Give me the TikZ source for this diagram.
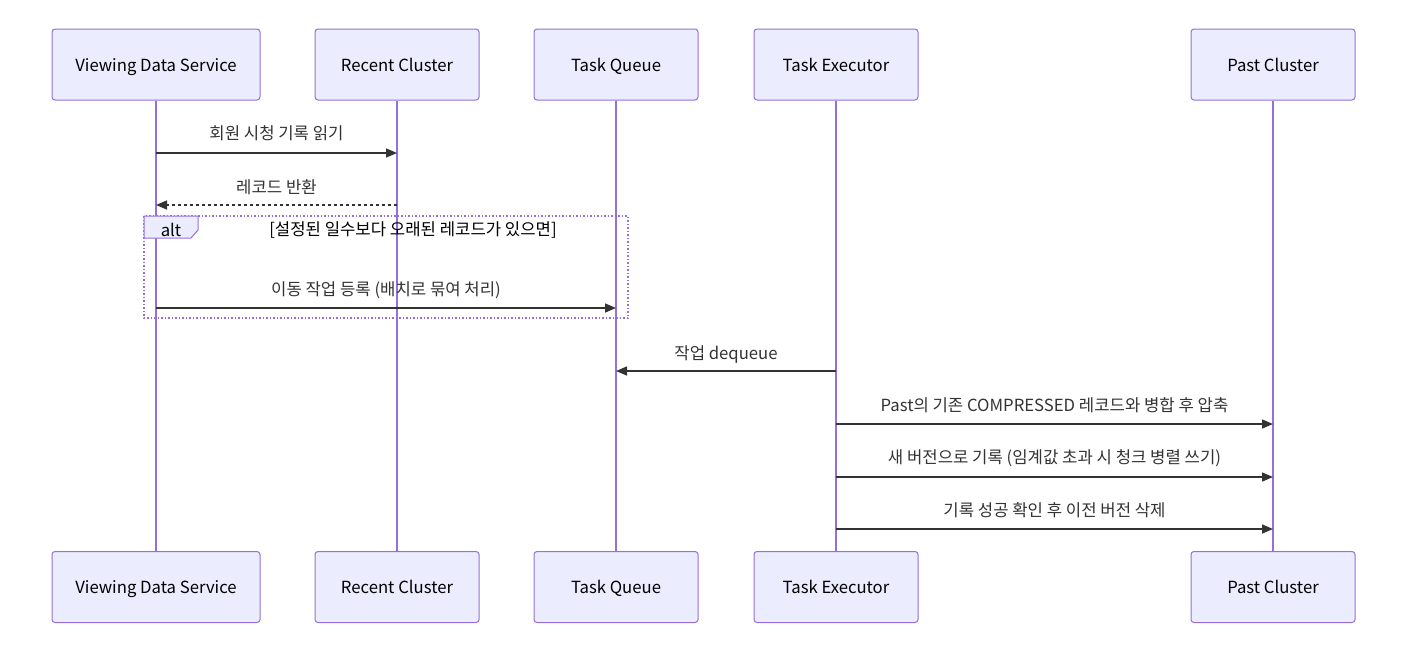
\documentclass[tikz,border=0pt]{standalone}
\usepackage{fontspec}
\setmainfont{Noto Sans CJK KR}
\usetikzlibrary{arrows.meta}
\definecolor{actorfill}{HTML}{ECECFF}
\definecolor{actorline}{HTML}{9370DB}
\definecolor{msgline}{HTML}{333333}
\begin{document}
\begin{tikzpicture}
[
    x=1pt, y=-1pt,
    font=\fontsize{16.7}{20}\selectfont,
    actor/.style={draw=actorline, fill=actorfill, line width=1pt, rounded corners=3pt,
        minimum width=164pt, minimum height=71pt, text=black,
        text height=15pt, text depth=2pt},
    lifeline/.style={draw=actorline, line width=2pt},
    msg/.style={draw=msgline, line width=1.5pt, -{Triangle[length=11pt,width=9pt]}},
    reply/.style={msg, dash pattern=on 3pt off 3pt},
    msglabel/.style={text=msgline, inner sep=0pt}
]
    \useasboundingbox (0,0) rectangle (1408,662);

    % participants, top and bottom
    \foreach \id/\cx/\w/\txt in {vds/156/208/Viewing Data Service, rc/397/164/Recent Cluster,
        tq/616/164/Task Queue, te/836/164/Task Executor, pc/1273/164/Past Cluster}
    {
        \node [actor, minimum width=\w pt] (\id T) at (\cx,64.5) {\txt};
        \node [actor, minimum width=\w pt] (\id B) at (\cx,587) {\txt};
        \draw [lifeline] (\id T.south) -- (\id B.north);
    }

    % alt frame
    \draw [actorline, line width=1.5pt, dotted] (144,216) rectangle (628,318);
    \draw [actorline, fill=actorfill, line width=1pt]
        (144,216) -- (198,216) -- (198,230) -- (191,238) -- (144,238) -- cycle;
    \node [msglabel, text=black] (altlbl) at (171,229.5) {alt};
    \node [msglabel, text=black] (altcond) at (413,230.5) {[설정된 일수보다 오래된 레코드가 있으면]};

    % messages
    \draw [msg] (vdsT.south |- 0,153) -- (rcT.south |- 0,153);
    \node [msglabel] (m1) at (276.5,133) {회원 시청 기록 읽기};

    \draw [reply] (rcT.south |- 0,205) -- (vdsT.south |- 0,205);
    \node [msglabel] (m2) at (276.5,187) {레코드 반환};

    \draw [msg] (vdsT.south |- 0,308) -- (tqT.south |- 0,308);
    \node [msglabel] (m3) at (386,290) {이동 작업 등록 (배치로 묶여 처리)};

    \draw [msg] (teT.south |- 0,371) -- (tqT.south |- 0,371);
    \node [msglabel] (m4) at (726,354) {작업 dequeue};

    \draw [msg] (teT.south |- 0,424) -- (pcT.south |- 0,424);
    \node [msglabel] (m5) at (1054.5,405) {Past의 기존 COMPRESSED 레코드와 병합 후 압축};

    \draw [msg] (teT.south |- 0,477) -- (pcT.south |- 0,477);
    \node [msglabel] (m6) at (1054.5,458) {새 버전으로 기록 (임계값 초과 시 청크 병렬 쓰기)};

    \draw [msg] (teT.south |- 0,529) -- (pcT.south |- 0,529);
    \node [msglabel] (m7) at (1054.5,510) {기록 성공 확인 후 이전 버전 삭제};
\end{tikzpicture}
\end{document}
